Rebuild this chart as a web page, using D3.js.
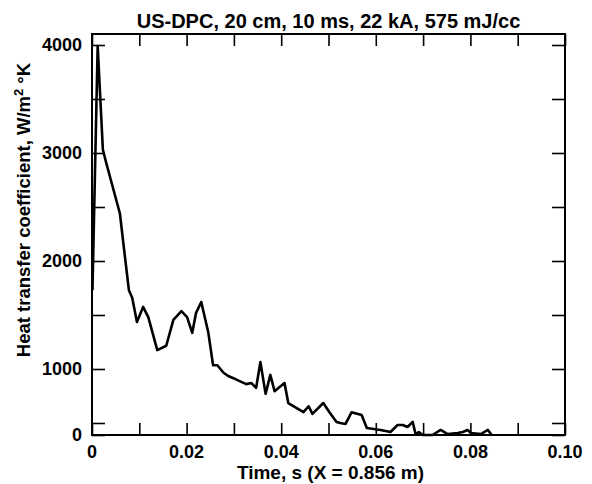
<!DOCTYPE html>
<html>
<head>
<meta charset="utf-8">
<script src="https://cdn.jsdelivr.net/npm/d3@7"></script>
<style>
  body { margin: 0; background: #fff; }
  svg text { font-family: "Liberation Sans", Arial, sans-serif; font-weight: bold; fill: #000; }
</style>
</head>
<body>
<svg id="chart" width="592" height="484"></svg>
<script>
// values
var time = [0.0001, 0.0012, 0.0023, 0.0030, 0.0059, 0.0068, 0.0078, 0.0085, 0.0095, 0.0108,
  0.0119, 0.0138, 0.0157, 0.0172, 0.0189, 0.0201, 0.0212, 0.0220, 0.0231, 0.0246,
  0.0256, 0.0265, 0.0278, 0.0288, 0.0299, 0.0311, 0.0326, 0.0337, 0.0347, 0.0356,
  0.0367, 0.0377, 0.0386, 0.0407, 0.0415, 0.0447, 0.0458, 0.0466, 0.0489, 0.0502,
  0.0517, 0.0525, 0.0536, 0.0549, 0.0570, 0.0581, 0.0610, 0.0631, 0.0646, 0.0657,
  0.0667, 0.0678, 0.0684, 0.0691, 0.0699, 0.0720, 0.0737, 0.0752, 0.0773, 0.0784,
  0.0794, 0.0801, 0.0822, 0.0837, 0.0845];
var htc = [1730, 3990, 3030, 2910, 2440, 2100, 1730, 1660, 1435, 1575,
  1480, 1175, 1215, 1455, 1535, 1480, 1335, 1520, 1620, 1335,
  1035, 1035, 965, 935, 915, 890, 860, 870, 825, 1065,
  770, 945, 795, 870, 685, 600, 655, 585, 685, 600,
  510, 500, 460, 600, 575, 290, 210, 125, 415, 415,
  335, 510, 40, 125, 0, 0, 210, 40, 85, 125,
  210, 85, 40, 210, 0];

var xTicks = [0, 0.01, 0.02, 0.03, 0.04, 0.05, 0.06, 0.07, 0.08, 0.09, 0.10];
var xLabels = [0, 0.02, 0.04, 0.06, 0.08, 0.10];
var yTicks = [0, 500, 1000, 1500, 2000, 2500, 3000, 3500, 4000];
var yLabels = [0, 1000, 2000, 3000, 4000];

var title = "US-DPC, 20 cm, 10 ms, 22 kA, 575 mJ/cc";

var svg = d3.select("#chart");
var pLeft = 92, pRight = 565, pTop = 34, pBottom = 435;

var x = d3.scaleLinear().domain([0, 0.1]).range([pLeft, pRight]);
// the lowest 500 of the axis is squeezed in the original plot
var y = d3.scaleLinear().domain([0, 500, 4000]).range([pBottom, 423, 45]);

var fmtX = function(d) { return d === 0 ? "0" : d3.format(".2f")(d); };

// tick marks, pointing inward on all four sides
function tickAxis(axis, tx, ty) {
  var g = svg.append("g").attr("transform", "translate(" + tx + "," + ty + ")").call(axis);
  g.select(".domain").remove();
  g.selectAll("text").remove();
  g.selectAll("line").attr("stroke", "#000").attr("stroke-width", 1.6);
}
tickAxis(d3.axisBottom(x).tickValues(xTicks).tickSize(-12), 0, pBottom);
tickAxis(d3.axisTop(x).tickValues(xTicks).tickSize(-12), 0, pTop);
tickAxis(d3.axisLeft(y).tickValues(yTicks).tickSize(-13), pLeft, 0);
tickAxis(d3.axisRight(y).tickValues(yTicks).tickSize(-13), pRight, 0);

// frame
svg.append("rect")
  .attr("x", pLeft).attr("y", pTop)
  .attr("width", pRight - pLeft).attr("height", pBottom - pTop)
  .attr("fill", "none").attr("stroke", "#000").attr("stroke-width", 2);

// tick labels
svg.append("g").selectAll("text").data(xLabels).join("text")
  .attr("x", d => x(d)).attr("y", pBottom + 23)
  .attr("text-anchor", "middle").style("font-size", "18px")
  .text(fmtX);

svg.append("g").selectAll("text").data(yLabels).join("text")
  .attr("x", pLeft - 10).attr("y", d => y(d) + 6)
  .attr("text-anchor", "end").style("font-size", "18px")
  .text(d => d);

// the curve
var line = d3.line()
  .x((d, i) => x(time[i]))
  .y(d => y(d));

svg.append("path")
  .datum(htc)
  .attr("d", line)
  .attr("fill", "none")
  .attr("stroke", "#000")
  .attr("stroke-width", 2.6)
  .attr("stroke-linejoin", "round");

// titles
svg.append("text")
  .attr("x", (pLeft + pRight) / 2).attr("y", 28)
  .attr("text-anchor", "middle").style("font-size", "20px")
  .text(title);

svg.append("text")
  .attr("x", (pLeft + pRight) / 2 + 2).attr("y", 479)
  .attr("text-anchor", "middle").style("font-size", "19px")
  .text("Time, s (X = 0.856 m)");

var yl = svg.append("text")
  .attr("transform", "translate(30,210) rotate(-90)")
  .attr("text-anchor", "middle").style("font-size", "18.5px");
yl.append("tspan").text("Heat transfer coefficient, W/m");
yl.append("tspan").attr("dy", -7).style("font-size", "13px").text("2");
yl.append("tspan").attr("dy", 7).text(" °K");
</script>
</body>
</html>
